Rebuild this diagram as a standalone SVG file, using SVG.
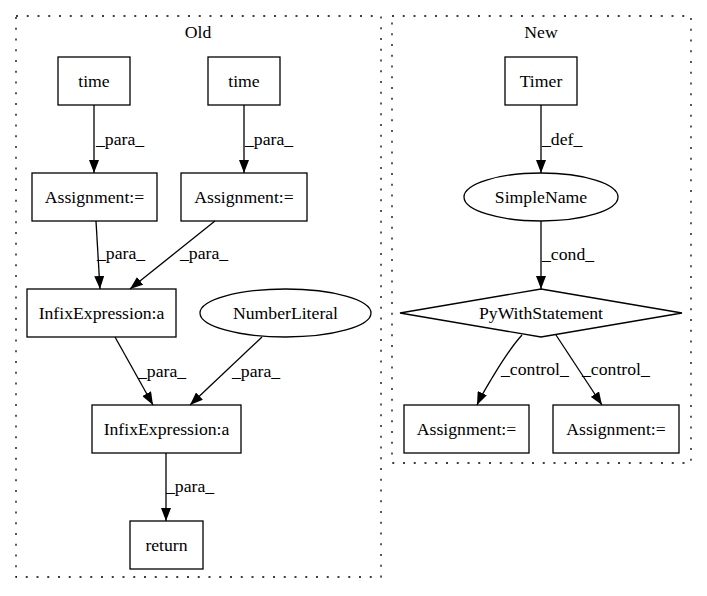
<svg xmlns="http://www.w3.org/2000/svg" width="707" height="596" viewBox="0 0 707 596">
<style>
text{font-family:"Liberation Serif","Times New Roman",Times,serif;font-size:17.7px;fill:#000}
.n{text-anchor:middle}
.shape{fill:none;stroke:#000;stroke-width:1.3}
.cl{fill:none;stroke:#000;stroke-width:1.3;stroke-dasharray:2,8.75}
.e{fill:none;stroke:#000;stroke-width:1.3}
</style>
<defs>
<marker id="ah" markerUnits="userSpaceOnUse" markerWidth="13" markerHeight="10" refX="13" refY="5" orient="auto">
<path d="M0,0 L13,5 L0,10 z" fill="#000"/>
</marker>
</defs>
<rect width="707" height="596" fill="#fff"/>
<g id="cluster_old">
<rect class="cl" x="16" y="16" width="365" height="561"/>
<text class="n" x="198" y="38">Old</text>
</g>
<g id="cluster_new">
<rect class="cl" x="392" y="16" width="299" height="447"/>
<text class="n" x="541" y="38">New</text>
</g>
<g id="time1"><rect class="shape" x="58" y="57" width="72" height="48"/><text class="n" x="94" y="87">time</text></g>
<g id="time2"><rect class="shape" x="208" y="57" width="72" height="48"/><text class="n" x="244" y="87">time</text></g>
<g id="assign1"><rect class="shape" x="32" y="173" width="125" height="48"/><text class="n" x="94.5" y="203">Assignment:=</text></g>
<g id="assign2"><rect class="shape" x="181" y="173" width="126" height="48"/><text class="n" x="244" y="203">Assignment:=</text></g>
<g id="infix1"><rect class="shape" x="27" y="289" width="149" height="48"/><text class="n" x="101.5" y="319">InfixExpression:a</text></g>
<g id="numlit"><ellipse class="shape" cx="285.5" cy="313" rx="85.5" ry="24"/><text class="n" x="285.5" y="319">NumberLiteral</text></g>
<g id="infix2"><rect class="shape" x="92" y="405" width="149" height="48"/><text class="n" x="166.5" y="435">InfixExpression:a</text></g>
<g id="return"><rect class="shape" x="130" y="521" width="73" height="48"/><text class="n" x="166.5" y="551">return</text></g>
<g id="timer"><rect class="shape" x="505" y="57" width="72" height="48"/><text class="n" x="541" y="87">Timer</text></g>
<g id="simplename"><ellipse class="shape" cx="541" cy="197" rx="77" ry="24"/><text class="n" x="541" y="203">SimpleName</text></g>
<g id="pywith"><polygon class="shape" points="541,289 682,313 541,337 400,313"/><text class="n" x="541" y="319">PyWithStatement</text></g>
<g id="assign3"><rect class="shape" x="404" y="405" width="125" height="48"/><text class="n" x="466.5" y="435">Assignment:=</text></g>
<g id="assign4"><rect class="shape" x="553" y="405" width="126" height="48"/><text class="n" x="616" y="435">Assignment:=</text></g>
<g id="edges">
<path class="e" marker-end="url(#ah)" d="M94,105 L94,173"/>
<text x="96" y="145">_para_</text>
<path class="e" marker-end="url(#ah)" d="M244,105 L244,173"/>
<text x="245" y="145">_para_</text>
<path class="e" marker-end="url(#ah)" d="M96,221 L100,289"/>
<text x="97" y="259">_para_</text>
<path class="e" marker-end="url(#ah)" d="M215,221 L130,289"/>
<text x="180" y="259">_para_</text>
<path class="e" marker-end="url(#ah)" d="M115,337 L153,405"/>
<text x="138" y="377">_para_</text>
<path class="e" marker-end="url(#ah)" d="M262,337 L190,405"/>
<text x="232" y="377">_para_</text>
<path class="e" marker-end="url(#ah)" d="M166,453 L166,521"/>
<text x="166" y="492">_para_</text>
<path class="e" marker-end="url(#ah)" d="M541,105 L541,173"/>
<text x="542" y="145">_def_</text>
<path class="e" marker-end="url(#ah)" d="M541,221 L541,289"/>
<text x="542" y="260">_cond_</text>
<path class="e" marker-end="url(#ah)" d="M522,335 C510,348 500,365 492,378 C486,388 481,396 477,405"/>
<text x="501" y="375">_control_</text>
<path class="e" marker-end="url(#ah)" d="M556,335 L602,405"/>
<text x="582" y="375">_control_</text>
</g>
</svg>
